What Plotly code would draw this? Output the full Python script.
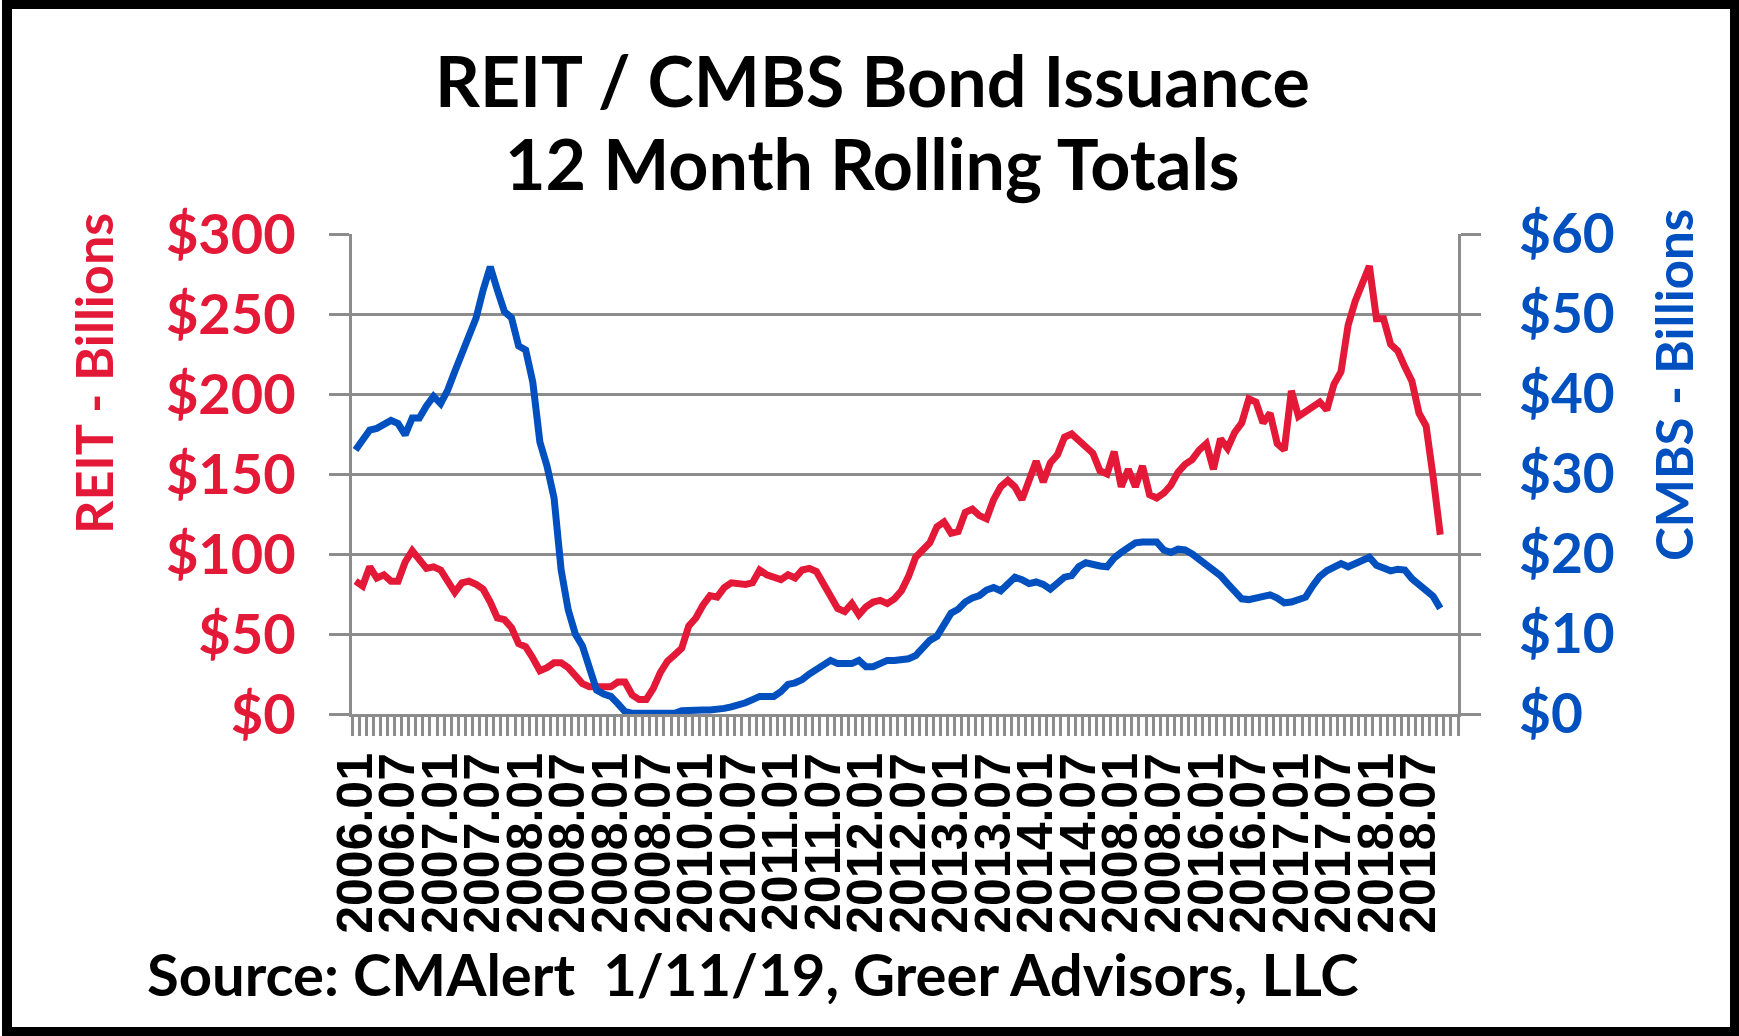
import plotly.graph_objects as go

# Monthly 12-month rolling issuance totals, Jan 2006 onward ($ billions)
reit_issuance = [
    83, 80, 92, 85, 87, 83, 83, 95, 102, 96, 91, 92,
    90, 83, 76, 82, 83, 81, 78, 70, 60, 59, 54, 44,
    42, 35, 27, 29, 32, 32, 29, 24, 19, 17, 17, 17,
    17, 20, 20, 12, 9, 9, 16, 26, 33, 37, 41, 55,
    60, 68, 74, 73, 79, 82, 81, 81, 82, 90, 87, 86,
    84, 87, 85, 90, 91, 89, 82, 74, 66, 64, 69, 62,
    67, 70, 71, 69, 72, 77, 86, 98, 103, 107, 117, 120,
    113, 114, 126, 128, 124, 122, 134, 142, 146, 142, 134, 145,
    158, 145, 157, 162, 173, 175, 171, 166, 163, 152, 150, 164,
    142, 153, 142, 155, 137, 135, 138, 143, 151, 156, 159, 165,
    169, 153, 172, 166, 176, 182, 197, 195, 182, 188, 169, 165,
    202, 186, 189, 193, 195, 190, 206, 214, 243, 258, 268, 280,
    247, 247, 231, 227, 217, 208, 188, 180, 148, 112,
]

cmbs_issuance = [
    33.0, 34.2, 35.5, 35.7, 36.2, 36.7, 36.3, 34.9, 37.0, 37.0, 38.5, 39.7,
    38.8, 40.5, 42.8, 45.0, 47.0, 49.5, 53.0, 55.9, 53.0, 50.3, 49.5, 46.0,
    45.5, 41.5, 34.0, 31.0, 27.0, 18.0, 13.0, 10.0, 8.5, 5.5, 3.0, 2.5,
    2.2, 1.3, 0.3, 0.1, 0.1, 0.1, 0.1, 0.1, 0.1, 0.1, 0.4, 0.5,
    0.5, 0.5, 0.5, 0.5, 0.7, 0.9, 1.1, 1.4, 1.8, 2.2, 2.2, 2.2,
    2.8, 3.7, 3.9, 4.3, 5.0, 5.5, 6.0, 6.7, 6.3, 6.2, 6.3, 6.7,
    5.9, 5.9, 6.3, 6.7, 6.7, 6.7, 6.9, 7.3, 8.2, 9.2, 9.7, 11.3,
    12.6, 13.1, 14.0, 14.5, 14.8, 15.5, 15.8, 15.4, 16.3, 17.1, 16.8, 16.3,
    16.5, 16.2, 15.6, 16.4, 17.1, 17.3, 18.4, 18.9, 18.6, 18.5, 18.4, 19.5,
    20.2, 20.8, 21.4, 21.5, 21.5, 21.5, 20.5, 20.2, 20.6, 20.5, 20.0, 19.3,
    18.8, 17.9, 17.3, 16.3, 15.2, 14.4, 14.3, 14.5, 14.9, 14.9, 14.5, 13.9,
    14.0, 14.2, 14.6, 16.0, 17.2, 17.9, 18.3, 18.8, 18.4, 18.8, 19.2, 19.6,
    18.6, 18.3, 17.9, 18.1, 18.0, 16.9, 16.1, 15.3, 14.7, 13.2,
]

# Category labels shown every six months along the time axis
tick_labels = [
    "2006.01", "2006.07", "2007.01", "2007.07", "2008.01", "2008.07",
    "2008.01", "2008.07", "2010.01", "2010.07", "2011.01", "2011.07",
    "2012.01", "2012.07", "2013.01", "2013.07", "2014.01", "2014.07",
    "2008.01", "2008.07", "2016.01", "2016.07", "2017.01", "2017.07",
    "2018.01", "2018.07",
]

n_months_axis = 156  # Jan 2006 .. Dec 2018
month_index = list(range(len(reit_issuance)))
label_positions = list(range(0, 6 * len(tick_labels), 6))

RED = "#E31937"
BLUE = "#0050C0"
GRAY = "#8C8C8C"

fig = go.Figure()
fig.add_trace(go.Scatter(
    x=month_index, y=reit_issuance, mode="lines",
    line=dict(color=RED, width=7), name="REIT", yaxis="y",
))
fig.add_trace(go.Scatter(
    x=month_index, y=cmbs_issuance, mode="lines",
    line=dict(color=BLUE, width=7), name="CMBS", yaxis="y2",
))

# plot area in pixels
L, R, T, B = 352, 1458, 234, 714
W, H = 1739, 1036
pw, ph = R - L, B - T


def px_x(x):
    return (x - L) / pw


def px_y(y):
    return (B - y) / ph


fig.update_layout(
    width=W, height=H, autosize=False,
    margin=dict(l=L, r=W - R, t=T, b=H - B, pad=0),
    paper_bgcolor="white", plot_bgcolor="white",
    showlegend=False,
    xaxis=dict(
        range=[-0.5, n_months_axis - 0.5],
        showgrid=False, zeroline=False,
        showline=True, linecolor=GRAY, linewidth=3,
        tickmode="array", tickvals=label_positions, ticktext=tick_labels,
        tickangle=-90, ticks="",
        ticklabelstandoff=16,
        tickfont=dict(family="Liberation Sans", size=50, color="black", weight="bold"),
        minor=dict(ticks="outside", ticklen=19, tickwidth=3, tickcolor=GRAY,
                   tickmode="linear", tick0=-0.5, dtick=1, showgrid=False),
    ),
    yaxis=dict(
        range=[0, 300], dtick=50, tickprefix="$",
        showgrid=True, gridcolor=GRAY, gridwidth=3, zeroline=False,
        showline=True, linecolor=GRAY, linewidth=3,
        ticks="outside", ticklen=20, tickwidth=3, tickcolor=GRAY,
        ticklabelstandoff=22,
        tickfont=dict(family="Lato", size=56, color=RED, weight="bold"),
    ),
    yaxis2=dict(
        range=[0, 60], dtick=10, tickprefix="$",
        overlaying="y", side="right",
        showgrid=False, zeroline=False,
        showline=True, linecolor=GRAY, linewidth=3,
        ticks="outside", ticklen=20, tickwidth=3, tickcolor=GRAY,
        ticklabelstandoff=27,
        tickfont=dict(family="Lato", size=55, color=BLUE, weight="bold"),
    ),
    annotations=[
        dict(text="<b>REIT / CMBS Bond Issuance</b>", xref="paper", yref="paper",
             x=px_x(872), y=px_y(80), xanchor="center", yanchor="middle",
             showarrow=False, font=dict(family="Lato", size=70, color="black")),
        dict(text="<b>12 Month Rolling Totals</b>", xref="paper", yref="paper",
             x=px_x(872), y=px_y(163), xanchor="center", yanchor="middle",
             showarrow=False, font=dict(family="Lato", size=70, color="black")),
        dict(text="<b>REIT - Billions</b>", xref="paper", yref="paper",
             x=px_x(93), y=px_y(374), xanchor="center", yanchor="middle",
             textangle=-90, showarrow=False,
             font=dict(family="Lato", size=52, color=RED)),
        dict(text="<b>CMBS - Billions</b>", xref="paper", yref="paper",
             x=px_x(1673), y=px_y(385), xanchor="center", yanchor="middle",
             textangle=-90, showarrow=False,
             font=dict(family="Lato", size=51, color=BLUE)),
        dict(text="<b>Source: CMAlert  1/11/19, Greer Advisors, LLC</b>",
             xref="paper", yref="paper",
             x=px_x(753), y=px_y(974), xanchor="center", yanchor="middle",
             showarrow=False, font=dict(family="Lato", size=58, color="black")),
    ],
    shapes=[
        # black frame around the whole graphic
        dict(type="rect", xref="paper", yref="paper",
             x0=px_x(7), x1=px_x(1735), y0=px_y(1032), y1=px_y(4),
             line=dict(color="black", width=10), fillcolor="rgba(0,0,0,0)",
             layer="above"),
    ],
)

fig.write_html("out.html")
